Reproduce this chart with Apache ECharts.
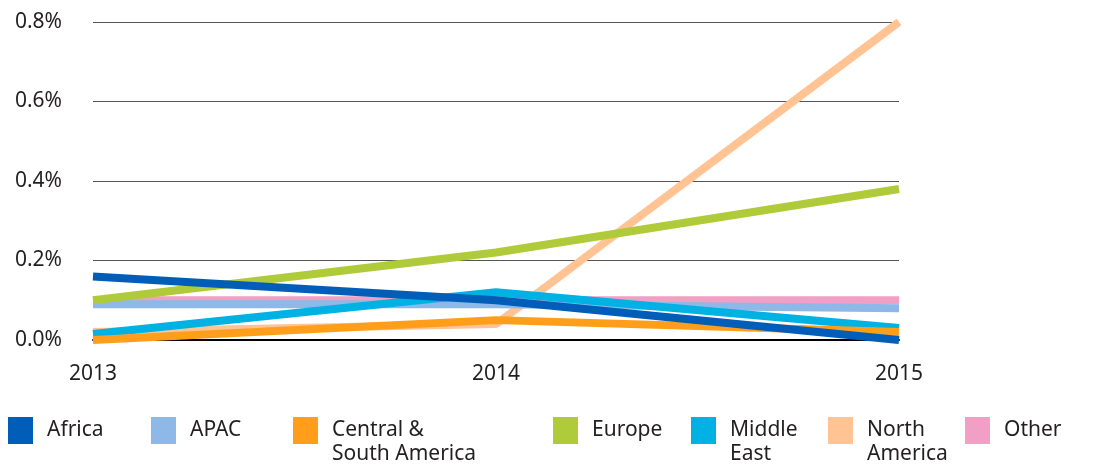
<!DOCTYPE html>
<html>
<head>
<meta charset="utf-8">
<script src="https://cdn.jsdelivr.net/npm/echarts@6/dist/echarts.min.js"></script>
<style>
  html, body { margin: 0; padding: 0; background: #fff; }
  #chart { width: 1120px; height: 468px; }
</style>
</head>
<body>
<div id="chart"></div>
<script>
const years = ['2013', '2014', '2015']
const yTicks = [0, 0.2, 0.4, 0.6, 0.8]

// values in percent
const africa = [0.16, 0.10, 0.0]
const apac = [0.09, 0.09, 0.08]
const centralSouthAmerica = [0.0, 0.05, 0.02]
const europe = [0.10, 0.22, 0.38]
const middleEast = [0.015, 0.12, 0.03]
const northAmerica = [0.02, 0.04, 0.8]
const other = [0.10, 0.10, 0.10]

const colors = {
    'Africa': '#005EB8',
    'APAC': '#8DB8E8',
    'Central & South America': '#FF9E1B',
    'Europe': '#B0CB3A',
    'Middle East': '#00B2E3',
    'North America': '#FFC394',
    'Other': '#F29FC5'
}

// two-line labels get an empty first line so the first text line sits level with the swatch
const labels = {
    'Africa': 'Africa',
    'APAC': 'APAC',
    'Central & South America': '\nCentral &\nSouth America',
    'Europe': 'Europe',
    'Middle East': '\nMiddle\nEast',
    'North America': '\nNorth\nAmerica',
    'Other': 'Other'
}

const legendLeft = {
    'Africa': 8,
    'APAC': 151,
    'Central & South America': 293,
    'Europe': 553,
    'Middle East': 691,
    'North America': 828,
    'Other': 965
}

const textColor = '#231F20'
const font = 'Noto Sans'

// drawing order, bottom to top
const seriesData = [
    ['North America', northAmerica],
    ['Other', other],
    ['APAC', apac],
    ['Middle East', middleEast],
    ['Central & South America', centralSouthAmerica],
    ['Europe', europe],
    ['Africa', africa]
]

const legends = Object.keys(legendLeft).map(name => {
    const twoLines = labels[name].indexOf('\n') >= 0
    return {
        left: legendLeft[name],
        top: twoLines ? 394.5 : 417,
        padding: 0,
        itemWidth: 25,
        itemHeight: 27,
        icon: 'rect',
        selectedMode: false,
        itemStyle: { color: colors[name] },
        formatter: () => labels[name],
        textStyle: {
            color: textColor,
            fontFamily: font,
            fontSize: 21,
            lineHeight: 24,
            padding: [0, 0, 0, 9]
        },
        data: [name]
    }
})

const chart = echarts.init(document.getElementById('chart'))
chart.setOption({
    animation: false,
    backgroundColor: '#fff',
    color: seriesData.map(s => colors[s[0]]),
    legend: legends,
    grid: { left: 93, right: 221, top: 22, bottom: 128 },
    xAxis: {
        type: 'category',
        data: years,
        boundaryGap: false,
        axisTick: { show: false },
        axisLine: { lineStyle: { color: '#000', width: 2 } },
        axisLabel: {
            color: textColor,
            fontFamily: font,
            fontSize: 21,
            margin: 24
        }
    },
    yAxis: {
        type: 'value',
        min: 0,
        max: 0.8,
        interval: 0.2,
        axisLine: { show: false },
        axisTick: { show: false },
        splitLine: { lineStyle: { color: '#555', width: 1 } },
        axisLabel: {
            color: textColor,
            fontFamily: font,
            fontSize: 21,
            margin: 31,
            formatter: v => yTicks.indexOf(+v.toFixed(1)) >= 0 ? v.toFixed(1) + '%' : ''
        }
    },
    series: seriesData.map(([name, data]) => ({
        name: name,
        type: 'line',
        data: data,
        symbol: 'none',
        clip: false,
        lineStyle: { width: 8, color: colors[name] },
        itemStyle: { color: colors[name] }
    }))
})
</script>
</body>
</html>
